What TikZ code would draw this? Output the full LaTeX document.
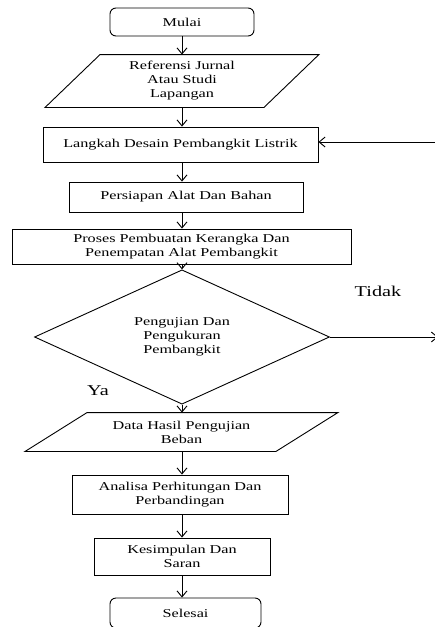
\documentclass[tikz,border=0pt]{standalone}
\usepackage{fontspec}
\setmainfont[FakeStretch=1.35]{Liberation Serif}
\usetikzlibrary{arrows.meta,calc,positioning,shapes.geometric}

\begin{document}
\begin{tikzpicture}[x=1pt,y=-1pt,line width=0.9pt,
  base/.style={draw,align=center,inner sep=1pt,font=\fontsize{12}{14}\selectfont},
  term/.style={base,rounded corners=6pt},
  box/.style={base,rectangle},
  io/.style={base,draw=none},
  dec/.style={base,diamond,inner sep=0pt},
  lbl/.style={font=\fontsize{15}{17}\selectfont},
  arr/.style={-{Straight Barb[length=6pt,width=10pt]}}]
\useasboundingbox (0,0) rectangle (435,627);
\clip (0,0) rectangle (435,627);
% main column
\node[term,minimum width=144,minimum height=28] (start) at (182,22) {Mulai};
\node[io,minimum width=218,minimum height=52] (ref) at (182,81) {Referensi Jurnal\\Atau Studi\\Lapangan};
\node[box,minimum width=275,minimum height=35] (design) at (180.5,144.5) {Langkah Desain Pembangkit Listrik};
\node[box,minimum width=234,minimum height=30] (prep) at (186,197) {Persiapan Alat Dan Bahan};
\node[box,minimum width=339,minimum height=35] (build) at (181.5,246.5) {Proses Pembuatan Kerangka Dan\\Penempatan Alat Pembangkit};
\node[dec,minimum width=295,minimum height=95] (test) at (182,337) {Pengujian Dan\\Pengukuran\\Pembangkit};
\node[io,minimum width=250,minimum height=38] (data) at (181.5,432) {Data Hasil Pengujian\\Beban};
\node[box,minimum width=216,minimum height=39] (analisa) at (180,494.5) {Analisa Perhitungan Dan\\Perbandingan};
\node[box,minimum width=176,minimum height=37] (concl) at (182,556.5) {Kesimpulan Dan\\Saran};
\node[term,minimum width=151,minimum height=30] (finish) at (185.5,613) {Selesai};
% parallelograms
\foreach \n/\s in {ref/27.5,data/31}
  \draw ($(\n.north west)+(\s,0)$) -- ($(\n.north east)+(\s,0)$) -- ($(\n.south east)+(-\s,0)$) -- ($(\n.south west)+(-\s,0)$) -- cycle;
% labels
\node[lbl] (no) at (378,291) {Tidak};
\node[lbl] (yes) at (98,391) {Ya};
% flow
\foreach \a/\b in {start/ref,ref/design,design/prep,prep/build,build/test,test/data,data/analisa,analisa/concl,concl/finish}
  \draw[arr] (\a.south -| start) -- (\b.north -| start);
\coordinate (back) at (440,142);
\coordinate (noend) at (438,337);
\draw[arr] (back) -- (back -| design.east);
\draw[arr] (test.east) -- (noend);
\end{tikzpicture}
\end{document}
